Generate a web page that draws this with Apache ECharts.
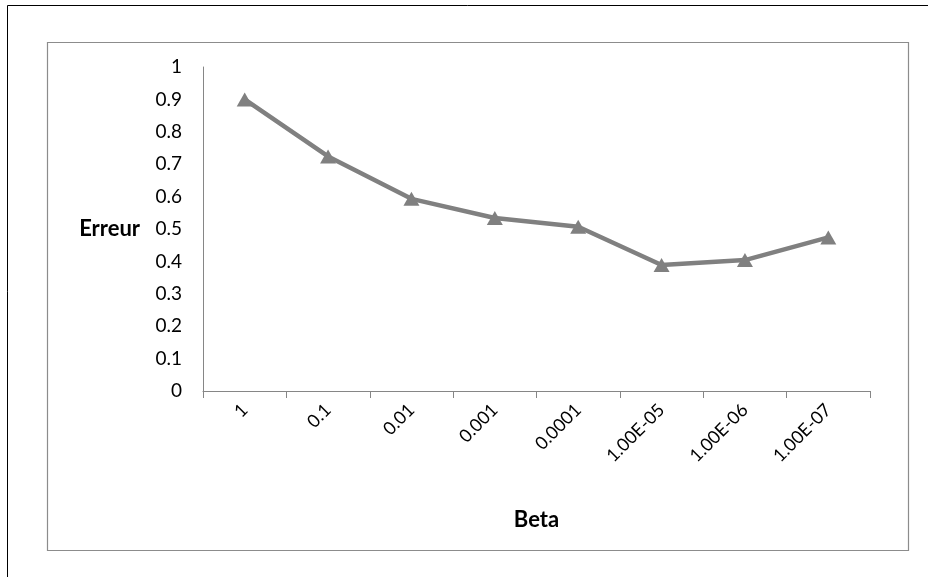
<!DOCTYPE html>
<html>
<head>
<meta charset="utf-8">
<script src="https://cdn.jsdelivr.net/npm/echarts@6/dist/echarts.min.js"></script>
<style>html,body{margin:0;padding:0;background:#fff}#c{width:928px;height:577px}</style>
</head>
<body>
<div id="c"></div>
<script>
var categories = ['1', '0.1', '0.01', '0.001', '0.0001', '1.00E-05', '1.00E-06', '1.00E-07'];
var erreur = [0.90, 0.724, 0.593, 0.534, 0.507, 0.389, 0.404, 0.474];
var yTicks = { min: 0, max: 1, interval: 0.1 };

var FONT = 'Lato';
var chart = echarts.init(document.getElementById('c'));
chart.setOption({
  animation: false,
  backgroundColor: '#fff',
  graphic: [
    { type: 'line', shape: { x1: 7.5, y1: 5.5, x2: 928, y2: 5.5 }, style: { stroke: '#000', lineWidth: 1 } },
    { type: 'line', shape: { x1: 7.5, y1: 5.5, x2: 7.5, y2: 577 }, style: { stroke: '#000', lineWidth: 1 } },
    { type: 'rect', shape: { x: 47.5, y: 42.5, width: 861, height: 508 }, style: { fill: 'none', stroke: '#8c8c8c', lineWidth: 1.2 } }
  ],
  grid: { left: 203, right: 58, top: 67, bottom: 186, containLabel: false },
  xAxis: {
    type: 'category',
    data: categories,
    boundaryGap: true,
    name: 'Beta',
    nameLocation: 'middle',
    nameGap: 118,
    nameTextStyle: { fontFamily: FONT, fontWeight: 'bold', fontSize: 22, color: '#000' },
    axisLine: { lineStyle: { color: '#868686', width: 1 } },
    axisTick: { show: true, length: 7, alignWithLabel: false, lineStyle: { color: '#868686' } },
    axisLabel: { rotate: 45, margin: 16, fontFamily: FONT, fontSize: 18, color: '#000', interval: 0 },
    splitLine: { show: false }
  },
  yAxis: {
    type: 'value',
    min: yTicks.min,
    max: yTicks.max,
    interval: yTicks.interval,
    name: 'Erreur',
    nameLocation: 'middle',
    nameRotate: 0,
    nameGap: 63,
    nameTextStyle: { fontFamily: FONT, fontWeight: 'bold', fontSize: 22, color: '#000', align: 'right', verticalAlign: 'middle' },
    axisLine: { show: true, lineStyle: { color: '#868686', width: 1 } },
    axisTick: { show: false },
    axisLabel: { margin: 21, fontFamily: FONT, fontSize: 19, color: '#000' },
    splitLine: { show: false }
  },
  series: [{
    type: 'line',
    data: erreur,
    symbol: 'triangle',
    symbolSize: [16, 14],
    lineStyle: { color: '#808080', width: 4.5 },
    itemStyle: { color: '#808080' }
  }]
});
</script>
</body>
</html>
